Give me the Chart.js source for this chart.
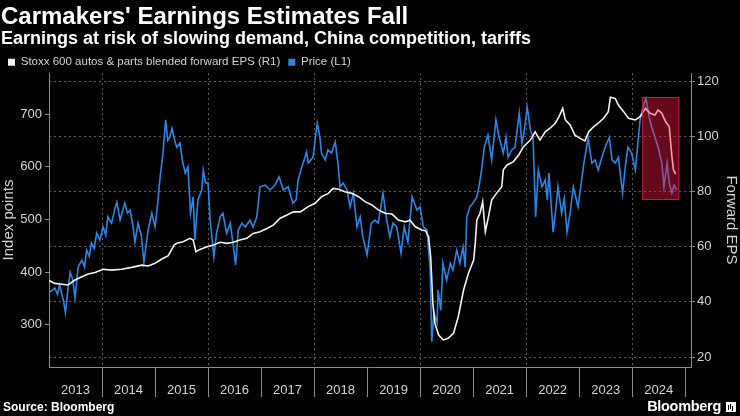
<!DOCTYPE html>
<html>
<head>
<meta charset="utf-8">
<script src="https://cdn.jsdelivr.net/npm/chart.js@4.4.0/dist/chart.umd.min.js"></script>
<style>
  html, body { margin: 0; padding: 0; background: #000; }
  body { width: 740px; height: 416px; position: relative; overflow: hidden; font-family: "Liberation Sans", Arial, sans-serif; color: #fff; }
  #chart { position: absolute; left: 0; top: 0; }
  .title { position: absolute; left: 1px; top: 4px; font-size: 24px; line-height: 24px; font-weight: bold; white-space: nowrap; }
  .subtitle { position: absolute; left: 1px; top: 29px; font-size: 18px; line-height: 18px; font-weight: bold; white-space: nowrap; }
  .source { position: absolute; left: 3px; top: 401px; font-size: 12px; line-height: 12px; font-weight: bold; white-space: nowrap; }
  .logo { position: absolute; right: 4px; top: 399px; font-size: 14.5px; line-height: 14px; font-weight: bold; letter-spacing: -0.3px; white-space: nowrap; }
  .logo i { display: inline-block; width: 10px; height: 10px; background: #fff; margin-left: 5px; vertical-align: -1px; position: relative; }
  .logo i::after { content: ""; position: absolute; left: 2px; bottom: 2px; width: 1px; height: 5px; background: #000; box-shadow: 2px -1px 0 #000, 4px 1px 0 #000; }
</style>
</head>
<body>
<canvas id="chart" width="740" height="416"></canvas>
<div class="title">Carmakers' Earnings Estimates Fall</div>
<div class="subtitle">Earnings at risk of slowing demand, China competition, tariffs</div>
<div class="source">Source: Bloomberg</div>
<div class="logo">Bloomberg<i></i></div>
<script>
const years = ["2013", "2014", "2015", "2016", "2017", "2018", "2019", "2020", "2021", "2022", "2023", "2024"];
const priceTicks = [300, 400, 500, 600, 700];
const epsTicks = [20, 40, 60, 80, 100, 120];

// forward EPS (right axis), date as year fraction
const epsDates = [
  2013.00, 2013.11, 2013.24, 2013.36, 2013.49, 2013.62, 2013.74, 2013.87,
  2014.02, 2014.18, 2014.37, 2014.56, 2014.75, 2014.87, 2015.00, 2015.13,
  2015.25, 2015.30, 2015.36, 2015.41, 2015.53, 2015.66, 2015.72, 2015.77,
  2015.85, 2015.98, 2016.10, 2016.23, 2016.35, 2016.48, 2016.60, 2016.73,
  2016.85, 2016.98, 2017.11, 2017.23, 2017.36, 2017.48, 2017.61, 2017.74,
  2017.89, 2018.02, 2018.14, 2018.27, 2018.36, 2018.46, 2018.58, 2018.71,
  2018.84, 2018.96, 2019.09, 2019.21, 2019.34, 2019.47, 2019.59, 2019.72,
  2019.81, 2019.91, 2020.03, 2020.10, 2020.16, 2020.20, 2020.24, 2020.28,
  2020.35, 2020.44, 2020.53, 2020.63, 2020.72, 2020.82, 2020.91, 2021.01,
  2021.04, 2021.07, 2021.13, 2021.18, 2021.23, 2021.29, 2021.35, 2021.44,
  2021.54, 2021.57, 2021.64, 2021.76, 2021.86, 2021.95, 2022.08, 2022.17,
  2022.26, 2022.36, 2022.45, 2022.55, 2022.62, 2022.69, 2022.74, 2022.83,
  2022.92, 2023.02, 2023.11, 2023.18, 2023.27, 2023.36, 2023.46, 2023.55,
  2023.59, 2023.68, 2023.74, 2023.84, 2023.93, 2024.06, 2024.15, 2024.25,
  2024.34, 2024.43, 2024.49, 2024.56, 2024.63, 2024.70, 2024.75, 2024.78,
  2024.82
];
const epsValues = [
  47.7, 46.7, 46.4, 46.1, 47.9, 49.1, 50.1, 50.6,
  51.8, 51.5, 51.8, 52.5, 53.3, 53.0, 54.0, 55.5,
  56.7, 58.5, 60.6, 61.2, 61.8, 63.0, 62.4, 58.2,
  59.0, 60.0, 60.6, 61.6, 61.2, 61.6, 62.4, 63.0,
  64.8, 65.4, 66.6, 67.8, 70.3, 71.4, 72.6, 72.6,
  74.5, 75.7, 78.1, 79.3, 81.1, 80.8, 79.9, 79.3,
  78.1, 76.3, 75.1, 73.3, 72.1, 71.8, 69.6, 69.0,
  69.6, 67.2, 66.0, 65.8, 63.6, 56.3, 39.5, 32.2,
  28.0, 26.2, 26.8, 28.6, 34.6, 44.3, 50.3, 55.1,
  61.2, 69.6, 72.1, 76.3, 65.4, 70.9, 76.9, 79.3,
  81.7, 87.8, 89.6, 90.8, 93.2, 96.2, 98.6, 101.6,
  98.6, 101.6, 102.9, 104.7, 107.1, 110.1, 105.9, 104.1,
  100.4, 99.2, 98.3, 101.6, 103.4, 104.7, 106.5, 108.9,
  114.1, 113.7, 111.3, 108.9, 106.5, 105.9, 107.1, 110.1,
  108.3, 107.7, 109.5, 108.3, 105.3, 103.4, 92.6, 87.8,
  86.3
];

// index price (left axis)
const priceDates = [
  2013.00, 2013.05, 2013.11, 2013.16, 2013.20, 2013.27, 2013.31, 2013.36,
  2013.40, 2013.45, 2013.49, 2013.55, 2013.62, 2013.67, 2013.71, 2013.76,
  2013.80, 2013.85, 2013.90, 2013.96, 2014.02, 2014.07, 2014.11, 2014.18,
  2014.23, 2014.28, 2014.34, 2014.43, 2014.48, 2014.53, 2014.58, 2014.62,
  2014.68, 2014.74, 2014.79, 2014.83, 2014.87, 2014.94, 2015.00, 2015.05,
  2015.09, 2015.15, 2015.20, 2015.24, 2015.28, 2015.32, 2015.37, 2015.41,
  2015.47, 2015.52, 2015.57, 2015.62, 2015.67, 2015.72, 2015.75, 2015.81,
  2015.88, 2015.91, 2015.95, 2016.00, 2016.04, 2016.11, 2016.16, 2016.23,
  2016.28, 2016.35, 2016.42, 2016.47, 2016.52, 2016.57, 2016.64, 2016.70,
  2016.79, 2016.85, 2016.92, 2016.98, 2017.08, 2017.17, 2017.26, 2017.34,
  2017.42, 2017.51, 2017.60, 2017.66, 2017.70, 2017.77, 2017.86, 2017.89,
  2017.98, 2018.06, 2018.11, 2018.14, 2018.21, 2018.26, 2018.33, 2018.40,
  2018.45, 2018.49, 2018.55, 2018.62, 2018.68, 2018.74, 2018.81, 2018.87,
  2018.92, 2019.00, 2019.08, 2019.15, 2019.21, 2019.30, 2019.37, 2019.43,
  2019.49, 2019.56, 2019.64, 2019.70, 2019.77, 2019.85, 2019.94, 2020.00,
  2020.06, 2020.13, 2020.19, 2020.22, 2020.26, 2020.32, 2020.34, 2020.39,
  2020.43, 2020.50, 2020.57, 2020.62, 2020.69, 2020.75, 2020.81, 2020.85,
  2020.88, 2020.94, 2021.00, 2021.07, 2021.11, 2021.16, 2021.21, 2021.28,
  2021.35, 2021.43, 2021.49, 2021.57, 2021.62, 2021.66, 2021.73, 2021.79,
  2021.87, 2021.92, 2021.96, 2022.02, 2022.08, 2022.13, 2022.18, 2022.23,
  2022.30, 2022.36, 2022.40, 2022.43, 2022.48, 2022.51, 2022.56, 2022.60,
  2022.67, 2022.72, 2022.77, 2022.83, 2022.89, 2022.98, 2023.04, 2023.09,
  2023.17, 2023.24, 2023.30, 2023.36, 2023.43, 2023.49, 2023.57, 2023.62,
  2023.68, 2023.74, 2023.82, 2023.87, 2023.92, 2023.99, 2024.06, 2024.15,
  2024.19, 2024.26, 2024.32, 2024.37, 2024.43, 2024.49, 2024.56, 2024.60,
  2024.66, 2024.70, 2024.75, 2024.79, 2024.84
];
const priceValues = [
  361, 365, 370, 358, 376, 347, 323, 370,
  400, 385, 351, 410, 423, 410, 442, 430,
  455, 445, 474, 461, 486, 470, 505, 493,
  515, 533, 499, 531, 512, 518, 490, 457,
  493, 470, 419, 450, 480, 512, 486, 530,
  575, 626, 689, 650, 657, 673, 650, 637,
  645, 610, 588, 600, 512, 543, 461, 537,
  556, 594, 570, 569, 499, 429, 474, 505,
  512, 474, 493, 455, 414, 480, 493, 486,
  499, 486, 505, 562, 565, 556, 565, 581,
  556, 562, 531, 537, 575, 600, 628, 607,
  618, 683, 656, 626, 613, 632, 626, 647,
  607, 562, 569, 556, 524, 550, 486, 505,
  467, 433, 493, 499, 493, 550, 499, 467,
  493, 486, 436, 486, 457, 543, 518, 524,
  486, 480, 404, 268, 323, 304, 366, 328,
  417, 385, 417, 404, 442, 417, 448, 410,
  505, 524, 531, 543, 562, 594, 637, 660,
  613, 689, 656, 626, 656, 618, 632, 637,
  702, 645, 664, 713, 670, 656, 505, 594,
  562, 575, 537, 588, 518, 476, 520, 562,
  512, 540, 476, 512, 562, 524, 569, 607,
  655, 607, 613, 594, 618, 637, 656, 613,
  607, 618, 550, 600, 637, 626, 594, 689,
  708, 730, 694, 675, 656, 637, 607, 562,
  607, 569, 550, 565, 556
];

// highlighted window (x in years, y in EPS units)
const boxStart = 2024.19;
const boxEnd = 2024.89;
const boxLow = 76.9;
const boxHigh = 114.2;

const gridColor = "#5c5c5c";
const axisColor = "#8c8c8c";
const textColor = "#d4d4d4";
const clear = "rgba(0,0,0,0)";

const highlightBox = {
  id: "highlightBox",
  afterDatasetsDraw(chart) {
    const { ctx, scales } = chart;
    const x1 = scales.x.getPixelForValue(boxStart);
    const x2 = scales.x.getPixelForValue(boxEnd);
    const y1 = scales.y1.getPixelForValue(boxHigh);
    const y2 = scales.y1.getPixelForValue(boxLow);
    ctx.save();
    ctx.fillStyle = "rgba(255, 22, 68, 0.4)";
    ctx.fillRect(x1, y1, x2 - x1, y2 - y1);
    ctx.strokeStyle = "rgba(205, 30, 55, 0.95)";
    ctx.lineWidth = 1;
    ctx.strokeRect(x1 + 0.5, y1 + 0.5, x2 - x1 - 1, y2 - y1 - 1);
    ctx.restore();
  },
};

new Chart(document.getElementById("chart"), {
  type: "line",
  data: {
    datasets: [
      {
        label: "Stoxx 600 autos & parts blended forward EPS (R1)",
        data: epsDates.map((d, i) => ({ x: d, y: epsValues[i] })),
        yAxisID: "y1",
        borderColor: "#f2f2f2",
        backgroundColor: "#f2f2f2",
        borderWidth: 1.6,
        pointRadius: 0,
        tension: 0,
      },
      {
        label: "Price (L1)",
        data: priceDates.map((d, i) => ({ x: d, y: priceValues[i] })),
        yAxisID: "y",
        borderColor: "#2a86e4",
        backgroundColor: "#2a86e4",
        borderWidth: 1.6,
        pointRadius: 0,
        tension: 0,
      },
    ],
  },
  options: {
    responsive: false,
    animation: false,
    events: [],
    layout: { padding: { top: 48.5, left: 0, right: 0, bottom: 19 } },
    plugins: {
      tooltip: { enabled: false },
      legend: {
        position: "top",
        align: "start",
        maxHeight: 24.5,
        labels: {
          color: textColor,
          font: { family: "Liberation Sans", size: 11.5 },
          boxWidth: 7,
          boxHeight: 7,
          padding: 8,
          generateLabels: (chart) =>
            Chart.defaults.plugins.legend.labels.generateLabels(chart).map((l) =>
              Object.assign(l, { lineWidth: 0, strokeStyle: clear })
            ),
        },
      },
    },
    scales: {
      x: {
        type: "linear",
        min: 2013,
        max: 2025.11,
        afterBuildTicks: (scale) => {
          const t = [];
          years.forEach((y, i) => {
            t.push({ value: 2013 + i + 0.5 });
            t.push({ value: 2014 + i });
          });
          scale.ticks = t;
        },
        afterFit: (scale) => { scale.height = 30; },
        ticks: {
          autoSkip: false,
          maxRotation: 0,
          minRotation: 0,
          padding: -14,
          color: textColor,
          font: { family: "Liberation Sans", size: 13 },
          callback: (value) => {
            const v = Number(value);
            return Number.isInteger(v) ? "" : years[Math.floor(v) - 2013];
          },
        },
        grid: {
          color: (c) => (c.tick && Number.isInteger(c.tick.value) && c.tick.value % 2 === 0 ? gridColor : clear),
          tickColor: (c) => (c.tick && Number.isInteger(c.tick.value) ? axisColor : clear),
          tickLength: 30,
          tickBorderDash: [],
          lineWidth: 1,
        },
        border: { display: true, color: axisColor, width: 1, dash: [2, 3] },
      },
      y: {
        type: "linear",
        position: "left",
        min: 220,
        max: 778,
        afterBuildTicks: (scale) => { scale.ticks = priceTicks.map((v) => ({ value: v })); },
        afterFit: (scale) => { scale.width = 49; },
        ticks: { color: textColor, padding: 3, font: { family: "Liberation Sans", size: 13 } },
        grid: { drawOnChartArea: false, tickLength: 4, tickColor: axisColor, tickBorderDash: [] },
        border: { display: true, color: axisColor, width: 1 },
        title: { display: true, text: "Index points", color: textColor, padding: 0, font: { family: "Liberation Sans", size: 15 } },
      },
      y1: {
        type: "linear",
        position: "right",
        min: 16.4,
        max: 122.9,
        afterBuildTicks: (scale) => { scale.ticks = epsTicks.map((v) => ({ value: v })); },
        afterFit: (scale) => { scale.width = 49; },
        ticks: { color: textColor, padding: 2, font: { family: "Liberation Sans", size: 13 } },
        grid: { color: gridColor, tickLength: 4, tickColor: axisColor, tickBorderDash: [], lineWidth: 1 },
        border: { display: true, color: axisColor, width: 1, dash: [2, 3] },
        title: { display: true, text: "Forward EPS", color: textColor, padding: 0, font: { family: "Liberation Sans", size: 15 } },
      },
    },
  },
  plugins: [highlightBox],
});
</script>
</body>
</html>
